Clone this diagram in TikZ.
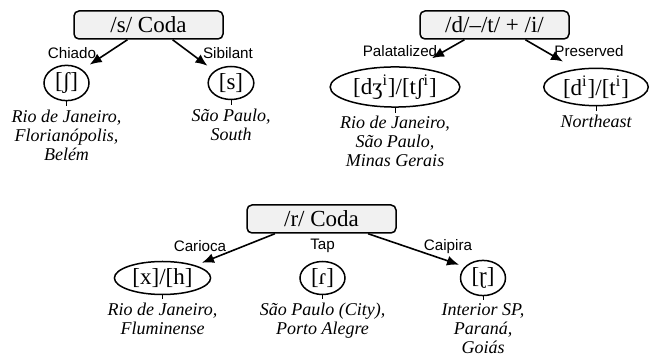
\documentclass[tikz,border=0pt]{standalone}
\usepackage{fontspec}
\setmainfont{Liberation Serif}
\setsansfont{Liberation Sans}
\usetikzlibrary{calc,arrows.meta,shapes.geometric}
\begin{document}
\begin{tikzpicture}[x=0.5pt,y=-0.5pt,
  catbox/.style={draw,line width=0.75pt,rounded corners=2.5pt,fill=gray!11,minimum width=74.5pt,minimum height=14pt,inner sep=0pt,font=\fontsize{11.5}{13}\selectfont},
  phon/.style={draw,ellipse,line width=0.75pt,inner xsep=2pt,inner ysep=1pt,minimum width=22.5pt,minimum height=16.5pt,font=\fontsize{11.5}{13}\selectfont},
  region/.style={anchor=north,align=center,inner sep=1.5pt,font=\fontsize{9}{9.5}\selectfont\itshape},
  lab/.style={inner sep=0pt,font=\sffamily\fontsize{7.6}{9}\selectfont},
  arr/.style={-{Latex[length=6pt,width=5pt]},line width=0.8pt},
  tick/.style={line width=0.5pt}
]
\useasboundingbox (0,0) rectangle (657,356);

% /s/ coda
\node[catbox] (sc) at (148.5,25) {/s/ Coda};
\node[phon] (sh) at (66.5,83) {[ʃ]};
\node[phon] (ss) at (231,83) {[s]};
\draw[arr] ($(sc.south west)!0.36!(sc.south east)$) -- (sh.north -| sh.east);
\draw[arr] ($(sc.south west)!0.66!(sc.south east)$) -- (ss.north -| ss.west);
\node[lab] (lch) at (72,53) {Chiado};
\node[lab] (lsi) at (228,53) {Sibilant};
\node[region] (tsh) at ($(sh.south)+(0,5)$) {Rio de Janeiro,\\Florianópolis,\\Belém};
\node[region] (tss) at ($(ss.south)+(0,5)$) {São Paulo,\\South};
\draw[tick] (sh.south) -- (tsh.north);
\draw[tick] (ss.south) -- (tss.north);

% /d/-/t/ + /i/
\node[catbox] (dc) at (494.5,25) {/d/–/t/ + /i/};
\node[phon] (dz) at (395,87) {[dʒ\textsuperscript{i}]/[tʃ\textsuperscript{i}]};
\node[phon] (dd) at (596,87) {[d\textsuperscript{i}]/[t\textsuperscript{i}]};
\draw[arr] ($(dc.south west)!0.30!(dc.south east)$) -- ($(dz.north)+(37,-8)$);
\draw[arr] ($(dc.south west)!0.705!(dc.south east)$) -- ($(dd.north)+(-33,-6)$);
\node[lab] (lpa) at (400,51) {Palatalized};
\node[lab] (lpr) at (589,51) {Preserved};
\node[region] (tdz) at ($(dz.south)+(0,5)$) {Rio de Janeiro,\\São Paulo,\\Minas Gerais};
\node[region] (tdd) at ($(dd.south)+(0,5)$) {Northeast};
\draw[tick] (dz.south) -- (tdz.north);
\draw[tick] (dd.south) -- (tdd.north);

% /r/ coda
\node[catbox] (rc) at (321.5,219) {/r/ Coda};
\node[phon] (xh) at (162.5,278) {[x]/[h]};
\node[phon] (tap) at (322.5,278) {[ɾ]};
\node[phon] (cai) at (483,278) {[ɽ]};
\draw[arr] ($(rc.south west)!0.19!(rc.south east)$) -- ($(xh.north)+(39.5,2)$);
\draw[arr] ($(rc.south west)!0.81!(rc.south east)$) -- ($(cai.north)+(-24,5)$);
\node[lab] (lca) at (200,246) {Carioca};
\node[lab] (lta) at (322.5,246) {Tap};
\node[lab] (lcp) at (448,247) {Caipira};
\node[region] (txh) at ($(xh.south)+(0,4)$) {Rio de Janeiro,\\Fluminense};
\node[region] (ttap) at ($(tap.south)+(0,4)$) {São Paulo (City),\\Porto Alegre};
\node[region] (tcai) at ($(cai.south)+(0,4)$) {Interior SP,\\Paraná,\\Goiás};
\draw[tick] (xh.south) -- (txh.north);
\draw[tick] (tap.south) -- (ttap.north);
\draw[tick] (cai.south) -- (tcai.north);
\end{tikzpicture}
\end{document}
